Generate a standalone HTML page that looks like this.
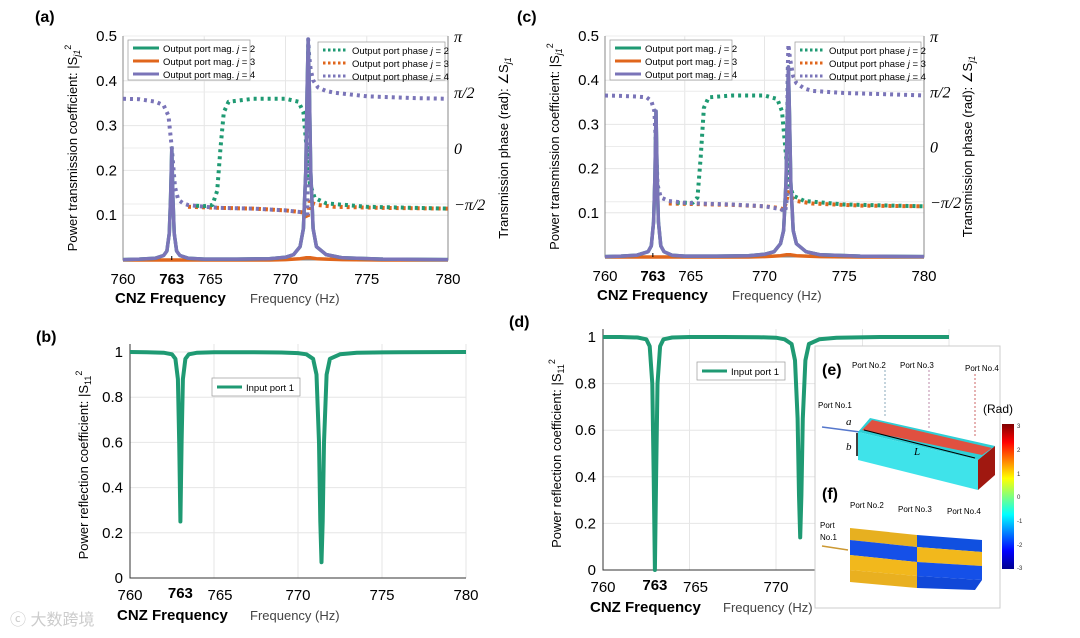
<!DOCTYPE html>
<html><head><meta charset="utf-8">
<style>
html,body{margin:0;padding:0;background:#fff;}
svg{display:block;font-family:"Liberation Sans",sans-serif;}
</style></head>
<body>
<svg id="fig" width="1080" height="638" viewBox="0 0 1080 638" xmlns="http://www.w3.org/2000/svg">
<defs>
<linearGradient id="jet" x1="0" y1="1" x2="0" y2="0">
<stop offset="0" stop-color="#00008f"/><stop offset="0.125" stop-color="#0000ff"/><stop offset="0.375" stop-color="#00ffff"/><stop offset="0.5" stop-color="#7fff7f"/><stop offset="0.625" stop-color="#ffff00"/><stop offset="0.875" stop-color="#ff0000"/><stop offset="1" stop-color="#800000"/>
</linearGradient>
</defs>
<g id="panels"></g>
<!-- inset -->
<g>
<rect x="815" y="346" width="185" height="262" fill="#fff" stroke="#ccc"/>
<text x="822" y="375" font-size="16" font-weight="bold">(e)</text>
<text x="852" y="368" font-size="8">Port No.2</text><text x="900" y="368" font-size="8">Port No.3</text><text x="965" y="371" font-size="8">Port No.4</text>
<text x="818" y="408" font-size="8">Port No.1</text>
<line x1="885" y1="370" x2="885" y2="418" stroke="#8ab" stroke-dasharray="2 2"/>
<line x1="929" y1="370" x2="929" y2="428" stroke="#b8a" stroke-dasharray="2 2"/>
<line x1="975" y1="374" x2="975" y2="437" stroke="#c66" stroke-dasharray="2 2"/>
<line x1="822" y1="427" x2="860" y2="432" stroke="#57c" stroke-width="1.5"/>
<polygon points="858,432 870,418 995,446 978,460" fill="#2ecfd6"/>
<polygon points="862,430 872,420 992,448 982,455" fill="#e05040"/>
<polygon points="858,432 978,460 978,490 858,460" fill="#3fe3ea"/>
<polygon points="978,460 995,446 995,475 978,490" fill="#a01810"/>
<line x1="864" y1="430" x2="975" y2="458" stroke="#000" stroke-width="1"/>
<line x1="857" y1="433" x2="857" y2="456" stroke="#000" stroke-width="1.5"/>
<text x="846" y="425" font-size="11" font-style="italic" font-family="Liberation Serif,serif">a</text>
<text x="846" y="450" font-size="11" font-style="italic" font-family="Liberation Serif,serif">b</text>
<text x="914" y="455" font-size="11" font-style="italic" font-family="Liberation Serif,serif">L</text>
<text x="983" y="413" font-size="12">(Rad)</text>
<rect x="1002" y="424" width="12" height="145" fill="url(#jet)"/>
<g font-size="6" fill="#333"><text x="1017" y="428">3</text><text x="1017" y="452">2</text><text x="1017" y="476">1</text><text x="1017" y="499">0</text><text x="1017" y="523">-1</text><text x="1017" y="547">-2</text><text x="1017" y="570">-3</text></g>
<text x="822" y="499" font-size="16" font-weight="bold">(f)</text>
<text x="850" y="508" font-size="8">Port No.2</text><text x="898" y="512" font-size="8">Port No.3</text><text x="947" y="514" font-size="8">Port No.4</text>
<text x="820" y="528" font-size="8">Port</text><text x="820" y="540" font-size="8">No.1</text>
<line x1="822" y1="546" x2="848" y2="550" stroke="#c93" stroke-width="1.5"/>
<polygon points="850,528 917,535 917,547 850,540" fill="#e7b020"/>
<polygon points="917,535 982,540 982,552 917,547" fill="#1050e0"/>
<polygon points="850,540 917,547 917,562 850,555" fill="#1550e8"/>
<polygon points="917,547 982,552 982,566 917,562" fill="#f2b81c"/>
<polygon points="850,555 917,562 917,576 850,570" fill="#f2b81c"/>
<polygon points="917,562 982,566 982,580 917,576" fill="#1550e8"/>
<polygon points="850,570 917,576 917,588 850,582" fill="#e9b020"/>
<polygon points="917,576 982,580 975,590 917,588" fill="#1148d8"/>
</g>
<text x="10" y="625" font-size="16" fill="#ccc">ⓒ 大数跨境</text>
</svg>
<script>
// ---- data ----
const freqMag = [760,761,762,762.5,762.7,762.85,762.93,763,763.07,763.15,763.3,763.5,764,765,767,769,770,770.5,770.9,771.1,771.25,771.33,771.4,771.47,771.55,771.7,771.9,772.5,773.5,776,780];
const freqMagC = [760,761,762,762.7,762.9,763.05,763.13,763.2,763.27,763.35,763.5,763.7,764.2,765,767,769,770,770.6,771,771.2,771.35,771.43,771.5,771.57,771.65,771.8,772,772.6,773.5,776,780];
const magA_j4 = [0.001,0.002,0.004,0.01,0.02,0.06,0.14,0.25,0.14,0.06,0.02,0.01,0.004,0.002,0.002,0.003,0.006,0.012,0.03,0.07,0.2,0.38,0.49,0.38,0.2,0.07,0.03,0.012,0.005,0.002,0.001];
const magA_j2 = [0.001,0.002,0.004,0.01,0.02,0.06,0.14,0.25,0.14,0.06,0.02,0.01,0.004,0.002,0.002,0.003,0.006,0.012,0.03,0.07,0.2,0.38,0.49,0.38,0.2,0.07,0.03,0.012,0.005,0.002,0.001];
const magA_j3 = [0,0,0,0,0,0,0,0,0,0,0,0,0,0,0,0,0.001,0.002,0.003,0.004,0.005,0.005,0.005,0.005,0.005,0.004,0.003,0.002,0.001,0,0];
const magC_j4 = [0.001,0.002,0.004,0.012,0.025,0.08,0.18,0.33,0.18,0.08,0.025,0.012,0.004,0.002,0.002,0.003,0.006,0.012,0.03,0.06,0.17,0.32,0.43,0.32,0.17,0.06,0.03,0.012,0.005,0.002,0.001];
const magC_j3 = [0,0,0,0,0,0,0,0,0,0,0,0,0,0,0,0,0.001,0.002,0.003,0.004,0.005,0.005,0.005,0.005,0.005,0.004,0.003,0.002,0.001,0,0];

const freqPh4 = [760,761,762,762.5,762.8,763,763.2,763.4,763.7,764,765,766,768,770,771,771.25,771.35,771.4,771.45,771.55,771.7,772,772.5,773,775,778,780];
const phA_j4 = [1.38,1.37,1.3,1.2,0.9,0.0,-1.1,-1.45,-1.55,-1.6,-1.65,-1.68,-1.7,-1.75,-1.8,-1.9,-1.95,3.05,2.6,2.2,1.9,1.7,1.6,1.55,1.45,1.4,1.38];
const freqPhC4 = [760,761,762,762.6,762.9,763.1,763.2,763.3,763.5,764,765,766,768,770,771,771.3,771.4,771.45,771.5,771.6,771.8,772,772.5,773,775,778,780];
const phC_j4 = [1.45,1.44,1.42,1.4,1.3,1.0,0.0,-1.1,-1.45,-1.55,-1.6,-1.62,-1.65,-1.7,-1.78,-1.85,-1.5,2.0,2.9,2.5,2.0,1.8,1.65,1.58,1.52,1.48,1.45];
const freqPh2 = [764.5,765,765.5,765.8,766,766.2,766.5,768,770,770.8,771.1,771.3,771.5,771.8,772.5,775,780];
const phA_j2 = [-1.62,-1.63,-1.6,-1.2,0,1.0,1.3,1.38,1.38,1.3,1.0,0,-1.0,-1.4,-1.55,-1.65,-1.7];
const phC_j2 = [-1.6,-1.6,-1.6,-1.45,-0.3,1.1,1.4,1.45,1.45,1.35,1.0,0,-1.0,-1.4,-1.55,-1.65,-1.7];
const freqPh3 = [764,766,768,770,771,771.2,771.35,771.5,771.7,772,773,776,780];
const phA_j3 = [-1.65,-1.68,-1.7,-1.75,-1.8,-1.85,-2.0,-1.45,-1.55,-1.6,-1.65,-1.68,-1.7];
const phC_j3 = [-1.62,-1.64,-1.66,-1.7,-1.75,-1.8,-1.6,-1.3,-1.45,-1.55,-1.62,-1.68,-1.7];

const s11B = [1.0,0.999,0.997,0.99,0.97,0.88,0.6,0.25,0.6,0.88,0.97,0.99,0.997,0.999,0.999,0.998,0.995,0.99,0.97,0.9,0.6,0.25,0.07,0.25,0.6,0.9,0.97,0.99,0.997,0.999,1.0];
const s11D = [1,1,0.998,0.99,0.96,0.8,0.4,0.0,0.4,0.8,0.96,0.99,0.998,1,1,0.999,0.997,0.99,0.97,0.9,0.65,0.32,0.14,0.32,0.65,0.9,0.97,0.99,0.997,1,1];

const xTicks = [760,765,770,775,780];
const magTicks = [0.1,0.2,0.3,0.4,0.5];
const phTicks = [Math.PI,Math.PI/2,0,-Math.PI/2];
const phTickLabels = ['π','π/2','0','−π/2'];
const s11Ticks = [0,0.2,0.4,0.6,0.8,1];

const G = '#1f9a73', O = '#e0661c', P = '#7a74b8';
const NS = 'http://www.w3.org/2000/svg';
const root = document.getElementById('panels');
function el(tag, attrs, parent, txt){
  const e = document.createElementNS(NS, tag);
  for (const k in attrs) e.setAttribute(k, attrs[k]);
  if (txt !== undefined) e.textContent = txt;
  (parent||root).appendChild(e);
  return e;
}
function mkScale(d0,d1,r0,r1){return v=>r0+(v-d0)*(r1-r0)/(d1-d0);}
function line(xs, ys, sx, sy, color, dashed, g, name){
  let d='';
  for(let i=0;i<xs.length;i++){d+=(i?'L':'M')+sx(xs[i]).toFixed(1)+','+sy(ys[i]).toFixed(1);}
  const p = el('path',{d:d,fill:'none',stroke:color,'stroke-width':dashed?4:3.5,'stroke-dasharray':dashed?'3 4':'none','stroke-linejoin':'round'},g);
  
  
  return p;
}

function transPanel(c){
  const g = el('g',{});
  
  
  const sx = mkScale(760,780,c.x0,c.x1), sy = mkScale(0,0.5,c.y0,c.y1), sp = mkScale(-Math.PI,Math.PI,c.y0,c.y1);
  xTicks.forEach(t=>{ el('line',{x1:sx(t),x2:sx(t),y1:c.y1,y2:c.y0,stroke:'#e6e6e6'},g); });
  magTicks.forEach(t=>{ el('line',{x1:c.x0,x2:c.x1,y1:sy(t),y2:sy(t),stroke:'#e6e6e6'},g); });
  phTicks.forEach(t=>{ el('line',{x1:c.x0,x2:c.x1,y1:sp(t),y2:sp(t),stroke:'#ececec'},g); });
  el('path',{d:`M${c.x0},${c.y1}V${c.y0}H${c.x1}V${c.y1}`,fill:'none',stroke:'#888'},g);
  line(c.f3, c.p3, sx, sp, O, true, g, 'phase-j3');
  line(c.f2, c.p2, sx, sp, G, true, g, 'phase-j2');
  line(c.f4, c.p4, sx, sp, P, true, g, 'phase-j4');
  line(c.fm, c.m3, sx, sy, O, false, g, 'mag-j3');
  line(c.fm, c.m2, sx, sy, G, false, g, 'mag-j2');
  line(c.fm, c.m4, sx, sy, P, false, g, 'mag-j4');
  magTicks.forEach(t=>{
    const tx = el('text',{x:c.x0-6,y:sy(t)+5,'font-size':15,'text-anchor':'end'},g,t.toFixed(1));
    
    
  });
  phTicks.forEach((t,i)=>{
    const tx = el('text',{x:c.x1+6,y:sp(t)+6,'font-size':16,'font-style':'italic','font-family':'Liberation Serif,serif'},g,phTickLabels[i]);
    
    
  });
  xTicks.forEach(t=>{
    const tx = el('text',{x:sx(t)+(t===765?6:0),y:c.y0+24,'font-size':15,'text-anchor':'middle'},g,String(t));
    
    
  });
  el('line',{x1:sx(763),x2:sx(763),y1:c.y0,y2:c.y0-4,stroke:'#000'},g);
  el('text',{x:sx(763),y:c.y0+24,'font-size':15,'font-weight':'bold','text-anchor':'middle'},g,'763');
  el('text',{x:c.x0-8,y:c.y0+43,'font-size':15,'font-weight':'bold'},g,'CNZ Frequency');
  el('text',{x:c.x0+127,y:c.y0+43,'font-size':13,fill:'#444'},g,'Frequency (Hz)');
  const yt = el('text',{x:0,y:0,'font-size':13,'text-anchor':'middle',transform:`translate(${c.x0-46},${(c.y0+c.y1)/2}) rotate(-90)`},g);
  yt.innerHTML = 'Power transmission coefficient: |S<tspan font-size="9" dy="3" font-style="italic">j1</tspan><tspan font-size="9" dy="-9">2</tspan>';
  const rt = el('text',{x:0,y:0,'font-size':13,'text-anchor':'middle',transform:`translate(${c.x1+c.rtx},${(c.y0+c.y1)/2}) rotate(-90)`},g);
  rt.innerHTML = 'Transmission phase (rad): ∠S<tspan font-size="9" dy="3" font-style="italic">j1</tspan>';
  const L = el('g',{},g);
  
  
  el('rect',{x:c.x0+5,y:c.y1+4,width:c.lw1,height:40,fill:'#fff',stroke:'#999','stroke-width':0.7},L);
  [[G,'2'],[O,'3'],[P,'4']].forEach((s,i)=>{
    const yy=c.y1+12+i*13;
    el('line',{x1:c.x0+10,x2:c.x0+36,y1:yy,y2:yy,stroke:s[0],'stroke-width':3},L);
    el('text',{x:c.x0+40,y:yy+4,'font-size':9.5},L).innerHTML='Output port mag. <tspan font-style="italic">j</tspan> = '+s[1];
  });
  const R = el('g',{},g);
  
  
  el('rect',{x:c.lx2,y:c.y1+6,width:c.x1-c.lx2-3,height:38,fill:'#fff',stroke:'#999','stroke-width':0.7},R);
  [[G,'2'],[O,'3'],[P,'4']].forEach((s,i)=>{
    const yy=c.y1+14+i*13;
    el('line',{x1:c.lx2+5,x2:c.lx2+30,y1:yy,y2:yy,stroke:s[0],'stroke-width':3,'stroke-dasharray':'2.5 2.5'},R);
    el('text',{x:c.lx2+34,y:yy+4,'font-size':9.5},R).innerHTML='Output port phase <tspan font-style="italic">j</tspan> = '+s[1];
  });
  el('text',{x:c.x0-88,y:c.y1-14,'font-size':16,'font-weight':'bold'},g,c.label);
}

function reflPanel(c){
  const g = el('g',{});
  
  
  const sx = mkScale(760,780,c.x0,c.x1), sy = mkScale(0,1,c.y0,c.y1);
  xTicks.forEach(t=>{ el('line',{x1:sx(t),x2:sx(t),y1:c.y1-8,y2:c.y0,stroke:'#e6e6e6'},g); });
  s11Ticks.forEach(t=>{ el('line',{x1:c.x0,x2:c.x1,y1:sy(t),y2:sy(t),stroke:'#e6e6e6'},g); });
  el('path',{d:`M${c.x0},${c.y1-8}V${c.y0}H${c.x1}`,fill:'none',stroke:'#333'},g);
  line(c.fm, c.v, sx, sy, G, false, g, 's11-input-port-1').setAttribute('stroke-width',4);
  s11Ticks.forEach(t=>{
    const tx = el('text',{x:c.x0-7,y:sy(t)+5,'font-size':15,'text-anchor':'end'},g,t===0||t===1?String(t):t.toFixed(1));
    
    
  });
  xTicks.forEach(t=>{
    if(sx(t)>c.xmaxLabel) return;
    const tx = el('text',{x:sx(t)+(t===765?6:0),y:c.y0+22,'font-size':15,'text-anchor':'middle'},g,String(t));
    
    
  });
  el('text',{x:sx(763),y:c.y0+20,'font-size':15,'font-weight':'bold','text-anchor':'middle'},g,'763');
  el('text',{x:c.x0-13,y:c.y0+42,'font-size':15,'font-weight':'bold'},g,'CNZ Frequency');
  el('text',{x:c.x0+120,y:c.y0+42,'font-size':13,fill:'#444'},g,'Frequency (Hz)');
  const yt = el('text',{x:0,y:0,'font-size':13,'text-anchor':'middle',transform:`translate(${c.x0-42},${(c.y0+c.y1)/2}) rotate(-90)`},g);
  yt.innerHTML = 'Power reflection coefficient: |S<tspan font-size="9" dy="3">11</tspan><tspan font-size="9" dy="-9">2</tspan>';
  const L = el('g',{},g);
  
  
  el('rect',{x:c.lx,y:c.ly,width:88,height:18,fill:'#fff',stroke:'#999','stroke-width':0.7},L);
  el('line',{x1:c.lx+5,x2:c.lx+30,y1:c.ly+9,y2:c.ly+9,stroke:G,'stroke-width':3},L);
  el('text',{x:c.lx+34,y:c.ly+13,'font-size':9.5},L,'Input port 1');
  el('text',{x:c.x0-94,y:c.y1-10,'font-size':16,'font-weight':'bold'},g,c.label);
}

transPanel({name:'panel-a',label:'(a)',x0:123,x1:448,y0:260,y1:36,lw1:122,lx2:318,rtx:60,
  fm:freqMag,m2:magA_j2,m3:magA_j3,m4:magA_j4,f2:freqPh2,p2:phA_j2,f3:freqPh3,p3:phA_j3,f4:freqPh4,p4:phA_j4});
transPanel({name:'panel-c',label:'(c)',x0:605,x1:924,y0:257,y1:36,lw1:122,lx2:795,rtx:48,
  fm:freqMagC,m2:magC_j4,m3:magC_j3,m4:magC_j4,f2:freqPh2,p2:phC_j2,f3:freqPh3,p3:phC_j3,f4:freqPhC4,p4:phC_j4});
reflPanel({name:'panel-b',label:'(b)',x0:130,x1:466,y0:578,y1:352,fm:freqMag,v:s11B,lx:212,ly:378,xmaxLabel:2000});
reflPanel({name:'panel-d',label:'(d)',x0:603,x1:949,y0:570,y1:337,fm:freqMag,v:s11D,lx:697,ly:362,xmaxLabel:800});
</script>
</body></html>
